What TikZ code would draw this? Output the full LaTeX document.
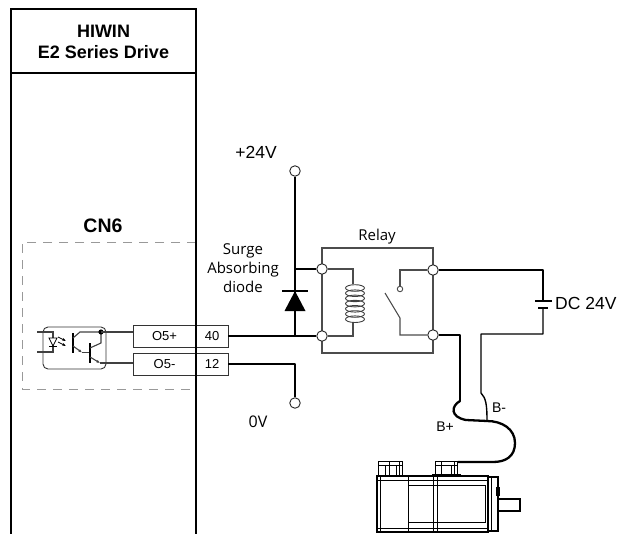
\documentclass[tikz,border=0pt]{standalone}
\usepackage{fontspec}
\setmainfont{Liberation Sans}
\newfontfamily\uifont{Open Sans}
\usetikzlibrary{arrows.meta}

\begin{document}
\begin{tikzpicture}[x=1pt,y=-1pt,
  drivebox/.style={line width=1.8pt},
  wire/.style={line width=1.4pt, line join=round},
  cable/.style={line width=2.3pt, line cap=round},
  gwire/.style={line width=1.1pt, draw=black!70},
  owire/.style={line width=1.1pt, draw=black!75},
  mline/.style={line width=0.9pt},
  term/.style={circle, draw=black!85, fill=white, line width=0.9pt, inner sep=0pt, minimum size=10.5pt},
  pinbox/.style={draw=black!80, line width=0.9pt, minimum height=22pt, inner sep=0pt, font=\fontsize{13}{13}\selectfont},
  uitext/.style={font=\uifont\fontsize{15}{19}\selectfont, align=center},
  lbl/.style={font=\fontsize{17.5}{18}\selectfont, inner sep=0pt},
  blbl/.style={font=\fontsize{14}{14}\selectfont, inner sep=0pt},
  optoarrow/.style={line width=0.8pt, -{Latex[length=3.5pt,width=3pt]}}
]
\useasboundingbox (0,0) rectangle (617,534);

% ---------------- drive housing ----------------
\draw[drivebox] (11,534) -- (11,9) -- (196,9) -- (196,534);
\draw[drivebox] (11,73) -- (196,73);
\node[font=\bfseries\fontsize{18}{21}\selectfont, align=center] (hdr) at (103.5,42) {HIWIN\\E2 Series Drive};

% ---------------- CN6 connector area ----------------
\node[font=\bfseries\fontsize{19.5}{20}\selectfont] (cn6) at (103,226) {CN6};
\draw[draw=black!40, line width=0.9pt, dash pattern=on 9pt off 7pt] (196,242) -- (22,242) -- (22,389) -- (196,389);

% pin boxes
\node[pinbox, minimum width=63pt] (o5p) at (164.5,336) {O5+};
\node[pinbox, minimum width=32pt] (p40) at (212,336) {40};
\node[pinbox, minimum width=63pt] (o5m) at (164.5,364) {O5-};
\node[pinbox, minimum width=32pt] (p12) at (212,364) {12};
\draw[drivebox] (196,240) -- (196,400);

% ---------------- optocoupler ----------------
\node[draw=black!80, line width=0.9pt, rounded corners=5pt, minimum width=63pt, minimum height=42pt, inner sep=0pt] (opto) at (74.5,348) {};
% LED
\draw[owire] (37,332) -- (53,332) -- (53,352) -- (37,352);
\draw[line width=0.8pt, fill=white] (49,338) -- (57,338) -- (53,346) -- cycle;
\draw[line width=0.8pt] (49,346.5) -- (57,346.5);
\draw[optoarrow] (58,337) -- (66,341);
\draw[optoarrow] (58,342) -- (66,346);
% Darlington transistor pair
\draw[line width=1.6pt] (73,333) -- (73,353);
\draw[owire] (73,338) -- (80,332) -- (101,332);
\draw[owire, -{Latex[length=3.5pt,width=3pt]}] (73,346) -- (82,352.5);
\draw[owire] (82,352.5) -- (90,352.5);
\draw[line width=1.6pt] (90,343) -- (90,363);
\draw[owire] (90,348) -- (101,343) -- (101,332);
\draw[owire, -{Latex[length=3.5pt,width=3pt]}] (90,357) -- (100,363);
\coordinate (ocol) at (101,332);
\coordinate (oemi) at (100,363);
\fill (ocol) circle (2.6pt);
\draw[owire] (ocol) -- (ocol -| o5p.west);
\draw[owire] (oemi) -- (oemi -| o5m.west);

% ---------------- supply terminals ----------------
\node[term] (t24) at (295,171) {};
\node[lbl] (l24) at (256,152) {+24V};
\node[term] (t0) at (295,403) {};
\node[font=\uifont\fontsize{16}{16}\selectfont] (l0) at (258,422) {0V};

% ---------------- relay ----------------
\node[draw=black!70, line width=1.1pt, minimum width=111pt, minimum height=105pt, inner sep=0pt] (relay) at (377.5,300.5) {};
\node[uitext] (lrelay) at (377,237) {Relay};
\node[term] (rl1) at (322,269) {};
\node[term] (rl2) at (322,336) {};
\node[term] (rr1) at (433,270) {};
\node[term] (rr2) at (433,335) {};

\coordinate (j1) at (t24 |- rl1);
\coordinate (j2) at (t24 |- rl2);

% main wiring
\draw[wire] (p40.east) -- (rl2.west);
\draw[wire] (p12.east) -- (p12.east -| t0) -- (t0.north);
\draw[wire] (t24.south) -- (j2);
\draw[wire] (j1) -- (rl1.west);

% surge absorbing diode
\fill (295,291) -- (284.5,311) -- (305.5,311) -- cycle;
\draw[line width=1.4pt] (282,291) -- (308,291);
\node[uitext] (ldiode) at (243,268) {Surge\\Absorbing\\diode};

% coil
\draw[gwire] (rl1.east) -- (353,269) -- (353,284);
\draw[gwire] (353,322) -- (353,336) -- (rl2.east);
\foreach \k in {0,...,6}
  \draw[line width=0.9pt, draw=black!75] (355,{288+5.2*\k}) ellipse (9.5pt and 3.3pt);

% contact
\node[circle, draw=black!70, line width=0.9pt, fill=white, minimum size=5.5pt, inner sep=0pt] (contact) at (400,289) {};
\draw[gwire] (rr1.west) -- (400,270) -- (contact.north);
\draw[gwire] (385,293) -- (400,318) -- (400,335) -- (rr2.west);

% DC 24V supply loop
\draw[wire] (rr1.east) -- (543,270) -- (543,301);
\draw[line width=1.4pt] (535,301) -- (552,301);
\draw[line width=1.4pt] (538,308) -- (548,308);
\node[lbl, anchor=west] (ldc) at (555,303.5) {DC 24V};
\draw[wire] (543,308) -- (543,334) -- (481,334) -- (481,393) .. controls (486,398) and (487,405) .. (487,421);
\draw[wire] (rr2.east) -- (460,335) -- (460,401);

% motor cable
\draw[cable] (460,401) .. controls (451,406) and (450,417) .. (466,420) -- (487,421)
  .. controls (502,421) and (515,429) .. (515,443)
  .. controls (515,457) and (505,462) .. (493,462) -- (458,462);
\node[blbl] (lbm) at (499,408) {B-};
\node[blbl] (lbp) at (445,427) {B+};

% ---------------- servo motor ----------------
% connectors
\draw[mline, fill=white] (378,461) rectangle (402,476);
\draw[mline] (378,465) -- (402,465);
\draw[mline] (385,465) -- (385,476);
\draw[mline] (389,461) -- (389,476);
\draw[mline] (396,465) -- (396,476);
\draw[mline] (399,461) -- (399,476);
\draw[mline, fill=white] (435,461) rectangle (457,476);
\draw[mline] (435,465) -- (457,465);
\draw[mline] (441,461) -- (441,476);
\draw[mline] (451,465) -- (451,476);
\draw[mline] (454,461) -- (454,476);
\draw[mline] (432,476) -- (432,474) -- (460,474) -- (460,476);
% body
\draw[line width=1.1pt] (377,476) rectangle (488,532);
\draw[mline] (380,476) -- (380,532);
\draw[mline] (408,476) -- (408,532);
\draw[mline] (433,476) -- (433,532);
\draw[mline] (437,476) -- (437,532);
\draw[mline] (377,480) -- (488,480);
\draw[mline] (377,528) -- (488,528);
\draw[mline] (408,485) -- (485,485) -- (485,522) -- (408,522);
% flange
\draw[line width=1.1pt] (488,477) rectangle (498,531);
\draw[mline] (491,477) -- (491,531);
\fill (496,487) rectangle (499.5,496);
% shaft
\draw[line width=1.1pt] (498,499) rectangle (520,511);
\end{tikzpicture}
\end{document}
